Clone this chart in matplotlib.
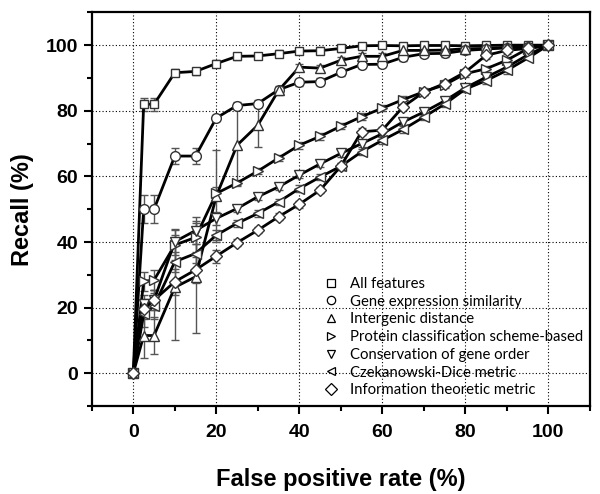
import matplotlib; matplotlib.use('Agg')
import matplotlib.pyplot as plt
from matplotlib.lines import Line2D
from matplotlib.ticker import MultipleLocator
import numpy as np

plt.rcParams['font.family'] = ['Liberation Sans', 'DejaVu Sans']

# false positive rate (%) sampling points
fpr = [0, 2.5, 5, 10, 15, 20, 25, 30, 35, 40, 45, 50, 55, 60, 65, 70, 75, 80, 85, 90, 95, 100]

labels = ['All features', 'Gene expression similarity', 'Intergenic distance',
          'Protein classification scheme-based', 'Conservation of gene order',
          'Czekanowski-Dice metric', 'Information theoretic metric']
markers = ['s', 'o', '^', '>', 'v', '<', 'D']

rec_all   = [0, 82, 82, 91.6, 92.0, 94.4, 96.6, 96.7, 97.4, 98.2, 98.3, 99.0, 99.8, 99.9, 99.8, 99.9, 99.9, 99.8, 99.9, 100, 100, 100]
rec_gene  = [0, 50, 50, 66.2, 66.2, 77.8, 81.6, 82.2, 86.4, 88.7, 88.9, 91.7, 94.1, 94.2, 96.3, 97.4, 97.5, 98.4, 98.8, 99.2, 99.5, 100]
rec_inter = [0, 11.5, 11.5, 26.2, 29.4, 54, 69.5, 75.6, 86.2, 93.3, 93.0, 95.4, 96.6, 96.6, 98.4, 98.4, 98.5, 98.9, 99.0, 99.3, 99.5, 100]
rec_prot  = [0, 28, 28.4, 39.1, 41.4, 54.8, 58, 61.6, 65.6, 69.5, 72.2, 75.3, 78.2, 80.8, 83.4, 85.8, 87.9, 91.3, 92.8, 95.4, 98.9, 100]
rec_cons  = [0, 21, 22.3, 40.1, 43.5, 47.2, 50.2, 53.8, 56.8, 60.4, 63.8, 67.0, 70.0, 73.0, 76.6, 79.6, 83.0, 87.0, 90.2, 93.3, 97.0, 100]
rec_czek  = [0, 18, 20.5, 34.0, 36.5, 42.1, 45.7, 48.7, 52.2, 56.3, 59.8, 63.1, 67.5, 71.0, 74.3, 78.1, 82.0, 86.6, 89.2, 92.3, 96.0, 100]
rec_info  = [0, 19.5, 22.3, 27.9, 31.5, 35.7, 39.8, 43.6, 47.7, 51.5, 55.8, 63.1, 73.6, 74.1, 81.2, 85.7, 88.3, 91.8, 96.9, 98.4, 99.0, 100]

err_all   = [0, 2, 2, 1, 1, 1, 1, 1, 1, 1, 1, 1, 0, 0, 1, 1, 1, 1, 1, 0, 0, 0]
err_gene  = [0, 4.3, 4.2, 2.5, 2.5, 1, 1, 1, 1, 1, 1, 1, 1, 1, 1, 1, 1, 1, 1, 0, 0, 0]
err_inter = [0, 7, 5.5, 16, 17, 14, 12, 6.5, 1.5, 1, 1, 1, 1, 1, 1, 1, 1, 1, 1, 0, 0, 0]
err_prot  = [0, 3, 3, 4.5, 4.5, 2, 1, 1, 1, 1, 1, 1, 1, 1, 1, 1, 1, 1, 1, 1, 0, 0]
err_cons  = [0, 3, 3, 4, 4, 2, 1, 1, 1, 1, 1, 1, 1, 1, 1, 1, 1, 1, 1, 1, 0, 0]
err_czek  = [0, 4, 4, 3, 3, 1.5, 1, 1, 1, 1, 1, 1, 1, 1, 1, 1, 1, 1, 1, 1, 0, 0]
err_info  = [0, 3, 3, 4, 4, 2, 1, 1, 1, 1, 1, 1, 1, 1, 1, 1, 1, 1, 1, 1, 0, 0]

series = [rec_all, rec_gene, rec_inter, rec_prot, rec_cons, rec_czek, rec_info]
errs = [err_all, err_gene, err_inter, err_prot, err_cons, err_czek, err_info]
msz = [6, 7, 7.5, 7.5, 7.5, 7.5, 6]

fig = plt.figure(figsize=(6, 4.94), dpi=100)
ax = fig.add_axes([0.153, 0.178, 0.830, 0.797])

for y, e, m, s in zip(series, errs, markers, msz):
    ax.errorbar(fpr, y, yerr=e, fmt='none', ecolor='#555555', elinewidth=1, capsize=3, capthick=1, zorder=2)
    ax.plot(fpr, y, color='black', lw=2, zorder=3)
    ax.plot(fpr, y, ls='none', marker=m, ms=s, mfc='white', mec='#333333', mew=1, zorder=4)

ax.set_xlim(-10, 110)
ax.set_ylim(-10, 110)
ax.xaxis.set_major_locator(MultipleLocator(20))
ax.xaxis.set_minor_locator(MultipleLocator(10))
ax.yaxis.set_major_locator(MultipleLocator(20))
ax.yaxis.set_minor_locator(MultipleLocator(10))
ax.tick_params(which='major', direction='out', length=6, width=1.5, labelsize=14, pad=4)
ax.tick_params(axis='x', which='major', pad=7)
ax.tick_params(which='minor', direction='out', length=3.5, width=1.5)
for lb in ax.get_xticklabels() + ax.get_yticklabels():
    lb.set_fontweight('bold')
for sp in ax.spines.values():
    sp.set_linewidth(1.6)
ax.grid(which='major', ls=(0, (1, 2)), color='black', lw=0.8)
ax.set_axisbelow(True)

ax.set_xlabel('False positive rate (%)', fontsize=17, fontweight='bold', labelpad=19)
ax.set_ylabel('Recall (%)', fontsize=17, fontweight='bold', labelpad=8)

handles = [Line2D([], [], ls='none', marker=m, ms=6, mfc='white', mec='black', mew=0.9) for m in markers]
ax.legend(handles, labels, loc='upper left', bbox_to_anchor=(0.465, 0.328), frameon=False,
          prop={'family': 'Lato', 'size': 10.7}, handlelength=1.0, handletextpad=0.8,
          labelspacing=0.25, borderpad=0, borderaxespad=0)

fig.savefig('out.png', dpi=100)
